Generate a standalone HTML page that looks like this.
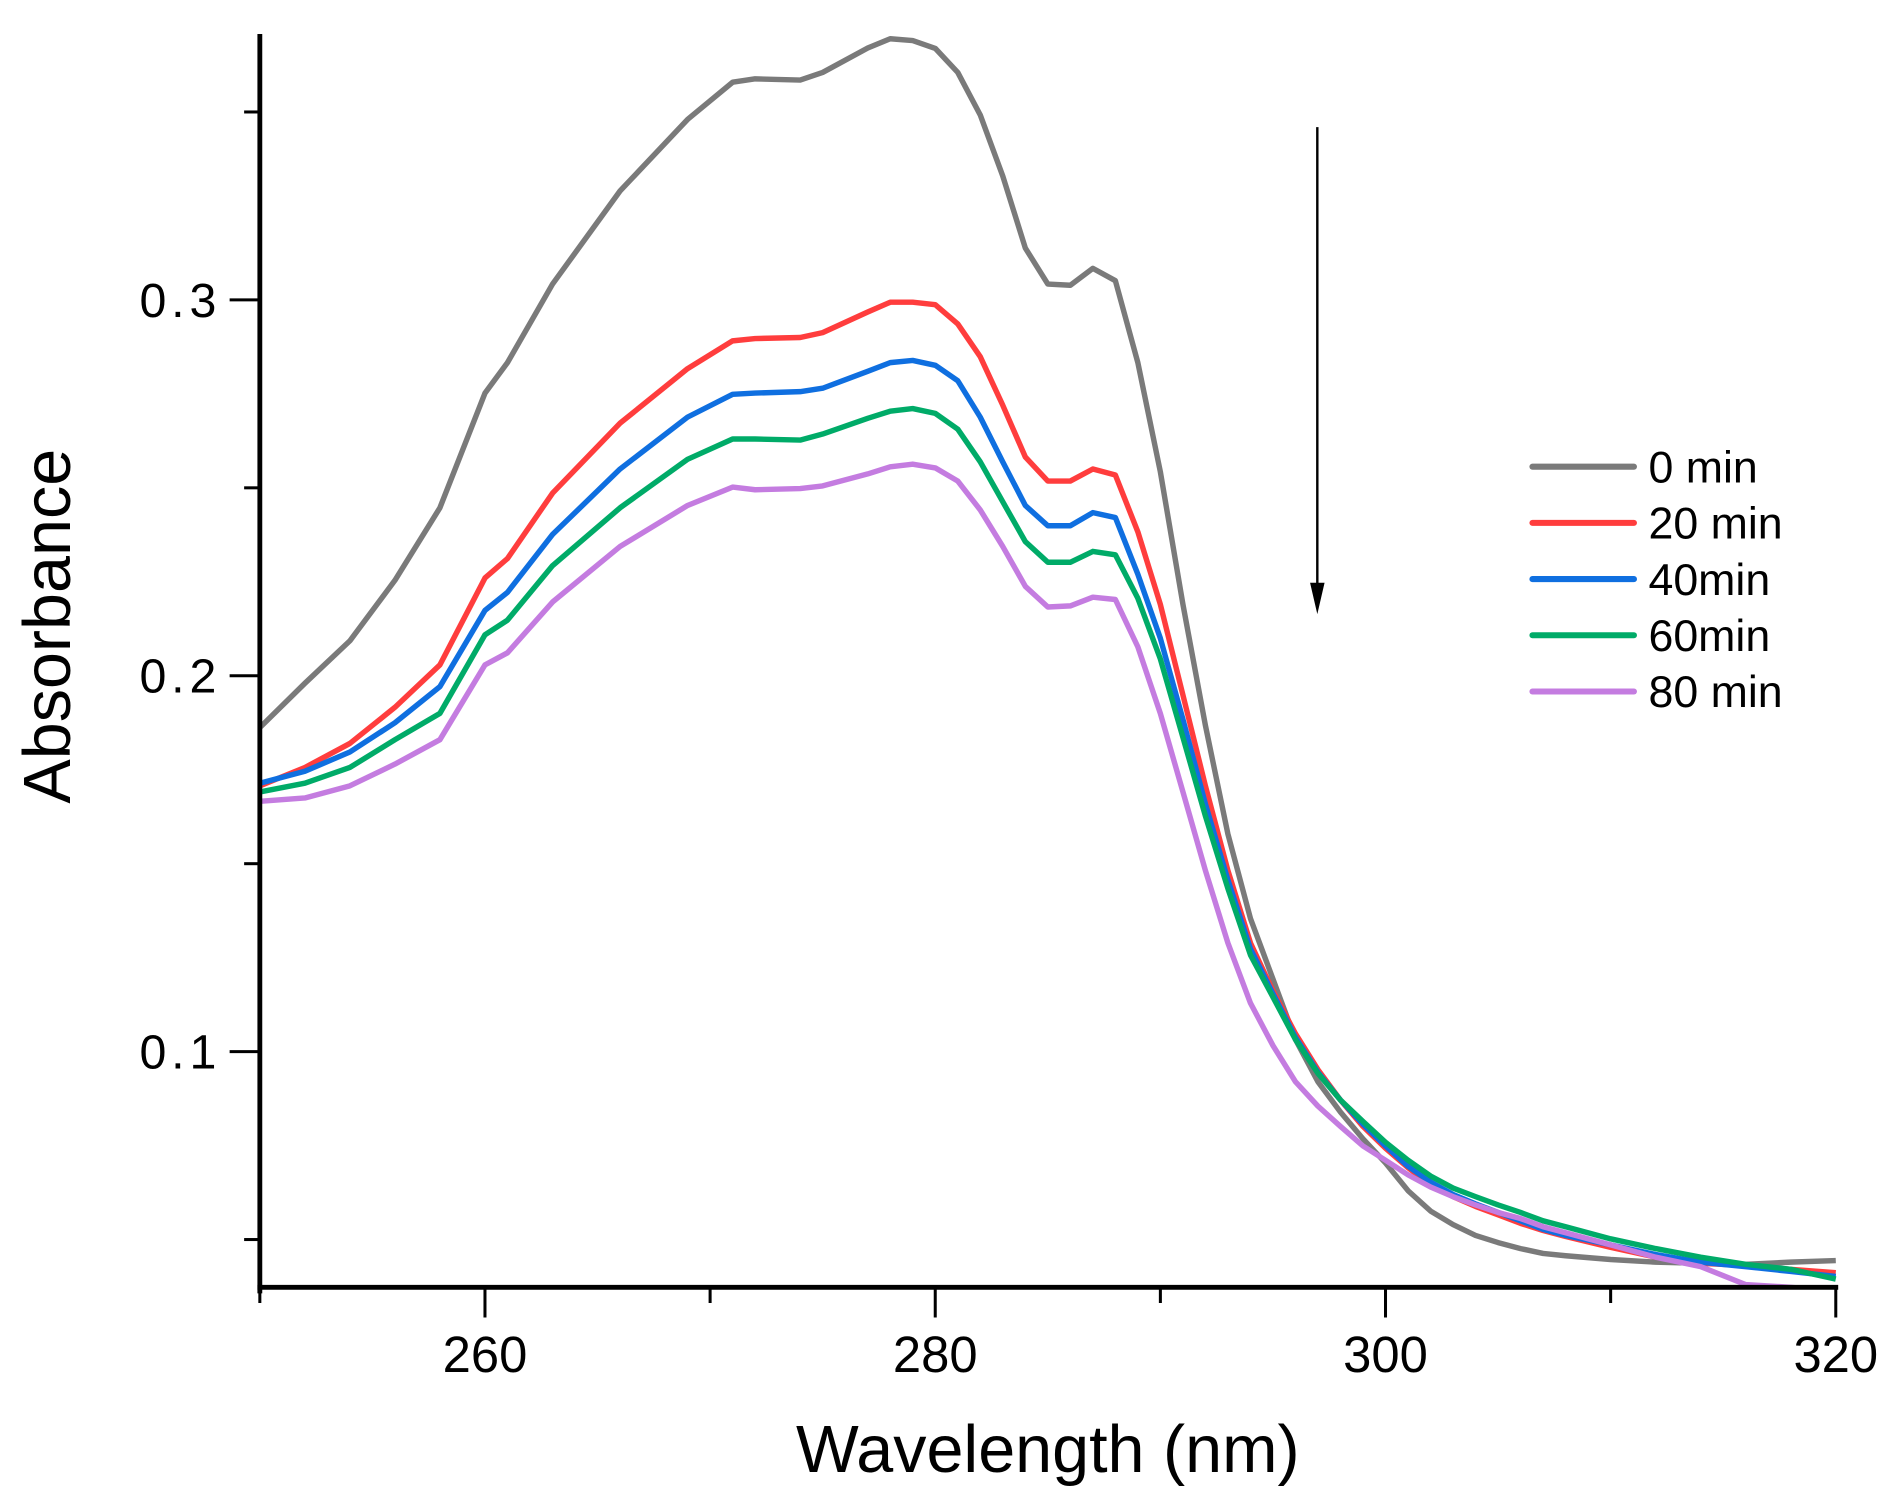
<!DOCTYPE html>
<html><head><meta charset="utf-8"><style>
html,body{margin:0;padding:0;background:#fff;}
svg{display:block;font-family:"Liberation Sans",Arial,sans-serif;}
</style></head><body>
<svg id="chart" width="1895" height="1505" viewBox="0 0 1568 1245" xmlns="http://www.w3.org/2000/svg">
<defs><clipPath id="plotclip"><rect x="215" y="20" width="1306" height="1045"/></clipPath></defs>
<g id="plot" clip-path="url(#plotclip)"></g>
<g id="axes"></g>
<g id="legend"></g>
<g>
<line x1="1090" y1="105" x2="1090" y2="490" stroke="#000" stroke-width="2"/>
<polygon points="1084,482 1096,482 1090,508" fill="#000"/>
</g>
<text x="867" y="1218" font-size="55" text-anchor="middle">Wavelength (nm)</text>
<text transform="translate(58,518) rotate(-90)" font-size="55" text-anchor="middle">Absorbance</text>
</svg>
<script>
const wavelengths=[250,252,254,256,258,260,261,263,266,269,271,272,274,275,277,278,279,280,281,282,283,284,285,286,287,288,289,290,291,292,293,294,295,296,297,298,299,300,301,302,303,304,305,306,307,308,310,312,314,316,318,320];
const abs0=[0.1862,0.198,0.2093,0.2254,0.2447,0.2752,0.2833,0.3042,0.329,0.348,0.3579,0.3588,0.3585,0.3605,0.367,0.3695,0.369,0.3669,0.3605,0.3492,0.333,0.3138,0.3042,0.3039,0.3084,0.3051,0.2833,0.2543,0.219,0.1868,0.1579,0.1354,0.1193,0.1032,0.092,0.0839,0.0768,0.0704,0.063,0.0576,0.054,0.0511,0.0492,0.0476,0.0463,0.0457,0.0447,0.044,0.0437,0.0434,0.044,0.0444];
const abs20=[0.1707,0.1756,0.182,0.1916,0.2029,0.226,0.2312,0.2486,0.2672,0.2817,0.2891,0.2897,0.29,0.2913,0.2968,0.2994,0.2994,0.2987,0.2936,0.2849,0.272,0.2582,0.2518,0.2518,0.255,0.2534,0.2383,0.219,0.1949,0.1707,0.1482,0.1289,0.1161,0.1048,0.0952,0.0871,0.0801,0.0743,0.0691,0.0646,0.0614,0.0588,0.0566,0.0543,0.0524,0.0508,0.0479,0.0453,0.0437,0.0431,0.0421,0.0412];
const abs40=[0.1714,0.1746,0.1797,0.1875,0.1971,0.2174,0.2222,0.2376,0.255,0.2688,0.2749,0.2752,0.2756,0.2765,0.281,0.2833,0.2839,0.2826,0.2785,0.2688,0.2569,0.2453,0.2399,0.2399,0.2434,0.2421,0.227,0.21,0.1884,0.1659,0.1457,0.1273,0.1154,0.1038,0.0945,0.0871,0.0807,0.0749,0.0695,0.0653,0.062,0.0595,0.0572,0.055,0.0527,0.0511,0.0486,0.046,0.044,0.0428,0.0415,0.0402];
const abs60=[0.1691,0.1714,0.1756,0.183,0.19,0.2109,0.2148,0.2293,0.2447,0.2576,0.263,0.263,0.2627,0.2643,0.2685,0.2704,0.2711,0.2698,0.2656,0.2569,0.2463,0.2357,0.2302,0.2302,0.2331,0.2322,0.2206,0.2045,0.1836,0.1627,0.1434,0.1257,0.1145,0.1032,0.0942,0.0871,0.0814,0.0759,0.0711,0.0669,0.0637,0.0614,0.0592,0.0572,0.055,0.0534,0.0502,0.0476,0.0453,0.0434,0.0421,0.0395];
const abs80=[0.1666,0.1675,0.1707,0.1765,0.183,0.2029,0.2061,0.2196,0.2344,0.2453,0.2502,0.2495,0.2498,0.2505,0.2537,0.2556,0.2563,0.2553,0.2518,0.2441,0.2344,0.2238,0.2183,0.2186,0.2209,0.2203,0.2077,0.19,0.1691,0.1482,0.1289,0.1129,0.1016,0.092,0.0855,0.0801,0.0749,0.0711,0.0672,0.064,0.0614,0.0592,0.0572,0.0556,0.0534,0.0518,0.0486,0.0453,0.0428,0.038,0.0373,0.0363];
const seriesLabels=["0 min","20 min","40min","60min","80 min"];
const xTicks=[260,280,300,320];
const xMinorTicks=[250,270,290,310];
const yTicks=[0.1,0.2,0.3];
const yMinorTicks=[0.05,0.15,0.25,0.35];

const colors=["#7a7a7a","#ff3d3d","#0f6fe0","#00ab68","#c47ce0"];
const series=[abs0,abs20,abs40,abs60,abs80];
const X0=215,X1=1519,Y0=1065,Ytop=28;
const xmin=250,xmax=320;
const ymin=0.1-(1065-870)/3110, ymax=0.3+(248-28)/3110;
function xs(v){return X0+(v-xmin)/(xmax-xmin)*(X1-X0);}
function ys(v){return Y0-(v-ymin)/(ymax-ymin)*(Y0-Ytop);}
const NS="http://www.w3.org/2000/svg";
function mk(tag,attrs,parent){const e=document.createElementNS(NS,tag);for(const k in attrs)e.setAttribute(k,attrs[k]);parent.appendChild(e);return e;}
const plot=document.getElementById('plot');
series.forEach((s,i)=>{
  const d=s.map((v,j)=>(j?'L':'M')+xs(wavelengths[j]).toFixed(1)+','+ys(v).toFixed(1)).join(' ');
  const p=mk('path',{d:d,fill:'none',stroke:colors[i],'stroke-width':4.5,'stroke-linejoin':'round'},plot);
  
  
});
const axes=document.getElementById('axes');
const ya=mk('line',{x1:X0,y1:Ytop,x2:X0,y2:Y0+5,stroke:'#000','stroke-width':4},axes);


const xa=mk('line',{x1:X0-2,y1:Y0,x2:X1+2,y2:Y0,stroke:'#000','stroke-width':4},axes);


xTicks.forEach(t=>{
  const l=mk('line',{x1:xs(t),y1:Y0,x2:xs(t),y2:Y0+25,stroke:'#000','stroke-width':2.5},axes);
  
  
  const tx=mk('text',{x:xs(t),y:Y0+70,'font-size':42,'text-anchor':'middle'},axes);
  tx.textContent=t;
  
  
});
xMinorTicks.forEach(t=>{
  const l=mk('line',{x1:xs(t),y1:Y0,x2:xs(t),y2:Y0+13,stroke:'#000','stroke-width':2.5},axes);
  
  
});
yTicks.forEach(t=>{
  const l=mk('line',{x1:X0-25,y1:ys(t),x2:X0,y2:ys(t),stroke:'#000','stroke-width':2.5},axes);
  
  
  const tx=mk('text',{x:X0-32,y:ys(t)+14,'font-size':40,'text-anchor':'end','letter-spacing':'4'},axes);
  tx.textContent=t.toFixed(1);
  
  
});
yMinorTicks.forEach(t=>{
  if(t<ymin||t>ymax)return;
  const l=mk('line',{x1:X0-13,y1:ys(t),x2:X0,y2:ys(t),stroke:'#000','stroke-width':2.5},axes);
  
  
});
const legend=document.getElementById('legend');
seriesLabels.forEach((lab,i)=>{
  const y=386+i*46.5;
  const l=mk('line',{x1:1268,y1:y,x2:1352,y2:y,stroke:colors[i],'stroke-width':5,'stroke-linecap':'round'},legend);
  
  
  const tx=mk('text',{x:1364,y:y+13,'font-size':37},legend);
  tx.textContent=lab;
  
  
});
</script>
</body></html>
